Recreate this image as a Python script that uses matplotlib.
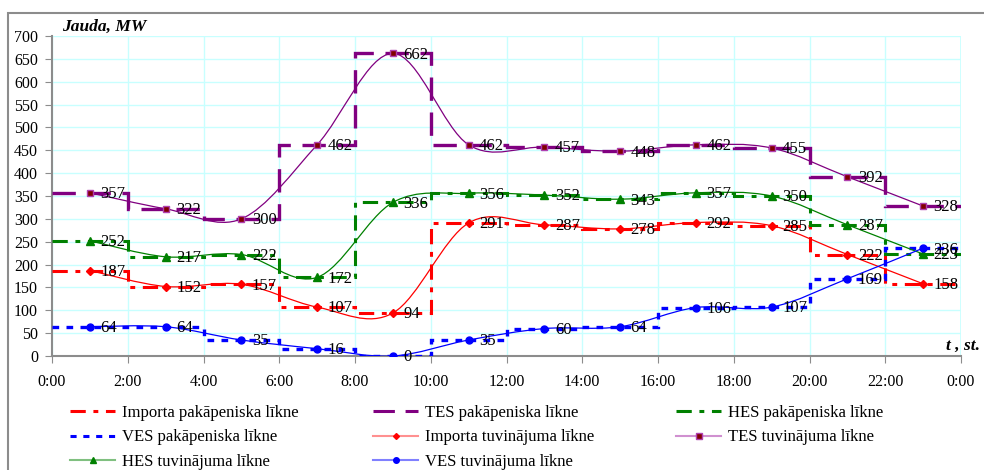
import numpy as np
import matplotlib
matplotlib.use("Agg")
import matplotlib.pyplot as plt
from matplotlib.path import Path
from matplotlib.patches import PathPatch, Rectangle
from matplotlib.lines import Line2D
from matplotlib.transforms import offset_copy

plt.rcParams['font.family'] = ['Liberation Serif', 'DejaVu Serif']

# ---- data ----
hours_mid = [1, 3, 5, 7, 9, 11, 13, 15, 17, 19, 21, 23]
step_edges = [0, 2, 4, 6, 8, 10, 12, 14, 16, 18, 20, 22, 24]
importa = [187, 152, 157, 107, 94, 291, 287, 278, 292, 285, 222, 158]
tes = [357, 322, 300, 462, 662, 462, 457, 448, 462, 455, 392, 328]
hes = [252, 217, 222, 172, 336, 356, 352, 343, 357, 350, 287, 223]
ves = [64, 64, 35, 16, 0, 35, 60, 64, 106, 107, 169, 236]
xtick_labels = ['0:00', '2:00', '4:00', '6:00', '8:00', '10:00', '12:00', '14:00',
                '16:00', '18:00', '20:00', '22:00', '0:00']
legend_labels = ['Importa pakāpeniska līkne', 'TES pakāpeniska līkne', 'HES pakāpeniska līkne',
                 'VES pakāpeniska līkne', 'Importa tuvinājuma līkne', 'TES tuvinājuma līkne',
                 'HES tuvinājuma līkne', 'VES tuvinājuma līkne']

W, H = 984, 470
fig = plt.figure(figsize=(W / 100, H / 100), dpi=100)
# outer frame
fig.patches.append(Rectangle((8 / W, -0.1), 1.2, 1.1 - 13 / H, transform=fig.transFigure,
                             fill=False, edgecolor='#8c8c8c', lw=1.5))

ax = fig.add_axes([52 / W, 1 - 356 / H, (961 - 52) / W, (356 - 36) / H])
ax.set_xlim(0, 24)
ax.set_ylim(0, 700)
ax.set_xticks(step_edges)
ax.set_xticklabels(xtick_labels, fontsize=11.5)
ax.set_yticks(np.arange(0, 701, 50))
ax.grid(True, color='#c8ffff', lw=1)
ax.set_axisbelow(True)
for s in ['top', 'right']:
    ax.spines[s].set_visible(False)
for s in ['left', 'bottom']:
    ax.spines[s].set_color('#8c8c8c')
    ax.spines[s].set_linewidth(1.5)
ax.tick_params(axis='both', direction='out', length=5, color='#8c8c8c')
ax.tick_params(axis='y', labelsize=11.5, pad=5)
ax.tick_params(axis='x', labelsize=11.5, pad=8)
# right border line of plot area (cyan)
ax.axvline(24, color='#c8ffff', lw=1.2, zorder=0)


def smooth_path(xs, ys):
    xs = np.asarray(xs, float)
    ys = np.asarray(ys, float)
    n = len(xs)
    verts = [(xs[0], ys[0])]
    codes = [Path.MOVETO]
    for i in range(n - 1):
        im1 = max(i - 1, 0)
        ip2 = min(i + 2, n - 1)
        c1 = (xs[i] + (xs[i + 1] - xs[im1]) / 6, ys[i] + (ys[i + 1] - ys[im1]) / 6)
        c2 = (xs[i + 1] - (xs[ip2] - xs[i]) / 6, ys[i + 1] - (ys[ip2] - ys[i]) / 6)
        verts += [c1, c2, (xs[i + 1], ys[i + 1])]
        codes += [Path.CURVE4] * 3
    return Path(verts, codes)


series = [
    # values, color, step dashes, step lw, marker, marker face, marker edge, msize, legend-light color
    (importa, '#ff0000', (5, 2.5, 1.6, 2.5), 2.2, 'D', '#ff0000', '#ff0000', 4, '#ff9090'),
    (tes, '#800080', (7, 3.5), 2.4, 's', '#800000', '#b040b0', 5, '#d090d0'),
    (hes, '#008000', (5, 2.5, 1.6, 2.5), 2.2, '^', '#008000', '#008000', 6, '#80c080'),
    (ves, '#0000ff', (2, 2.2), 2.4, 'o', '#0000ff', '#0000ff', 5, '#8080ff'),
]

step_handles = []
curve_handles = []
for vals, col, dash, slw, mk, mfc, mec, ms, lcol in series:
    ax.stairs(vals, step_edges, baseline=None, color=col, lw=slw, linestyle=(0, dash), zorder=3)
    ax.add_patch(PathPatch(smooth_path(hours_mid, vals), fill=False, edgecolor=col, lw=0.9, zorder=4))
    ax.plot(hours_mid, vals, linestyle='none', marker=mk, markersize=ms, markerfacecolor=mfc,
            markeredgecolor=mec, zorder=5)
    step_handles.append(Line2D([], [], color=col, lw=2.2, linestyle=(0, dash)))
    curve_handles.append(Line2D([], [], color=lcol, lw=1.5, marker=mk, markersize=ms - 1,
                                markerfacecolor=mfc, markeredgecolor=mec))
    tr = offset_copy(ax.transData, fig=fig, x=7.5, y=-1, units='points')
    for x, v in zip(hours_mid, vals):
        ax.text(x, v, str(v), transform=tr, ha='left', va='center', fontsize=12,
                color='black', zorder=6)

ax.text(0.011, 1.004, 'Jauda, MW', transform=ax.transAxes, fontsize=12.5, fontweight='bold',
        fontstyle='italic', ha='left', va='bottom')
fig.text(980 / W, 1 - 346 / H, 't , st.', fontsize=12.5, fontweight='bold', fontstyle='italic',
         ha='right', va='center')

handles = step_handles + curve_handles
columns = [[0, 3, 6], [1, 4, 7], [2, 5]]
col_x = [70, 373, 676]
for cx, idxs in zip(col_x, columns):
    fig.legend([handles[i] for i in idxs], [legend_labels[i] for i in idxs], ncol=1,
               loc='upper left', bbox_to_anchor=(cx / W, 1 - 405 / H), frameon=False,
               fontsize=12, handlelength=2.7, handletextpad=0.42,
               labelspacing=0.5, borderpad=0, borderaxespad=0)

fig.savefig('out.png', dpi=100)
